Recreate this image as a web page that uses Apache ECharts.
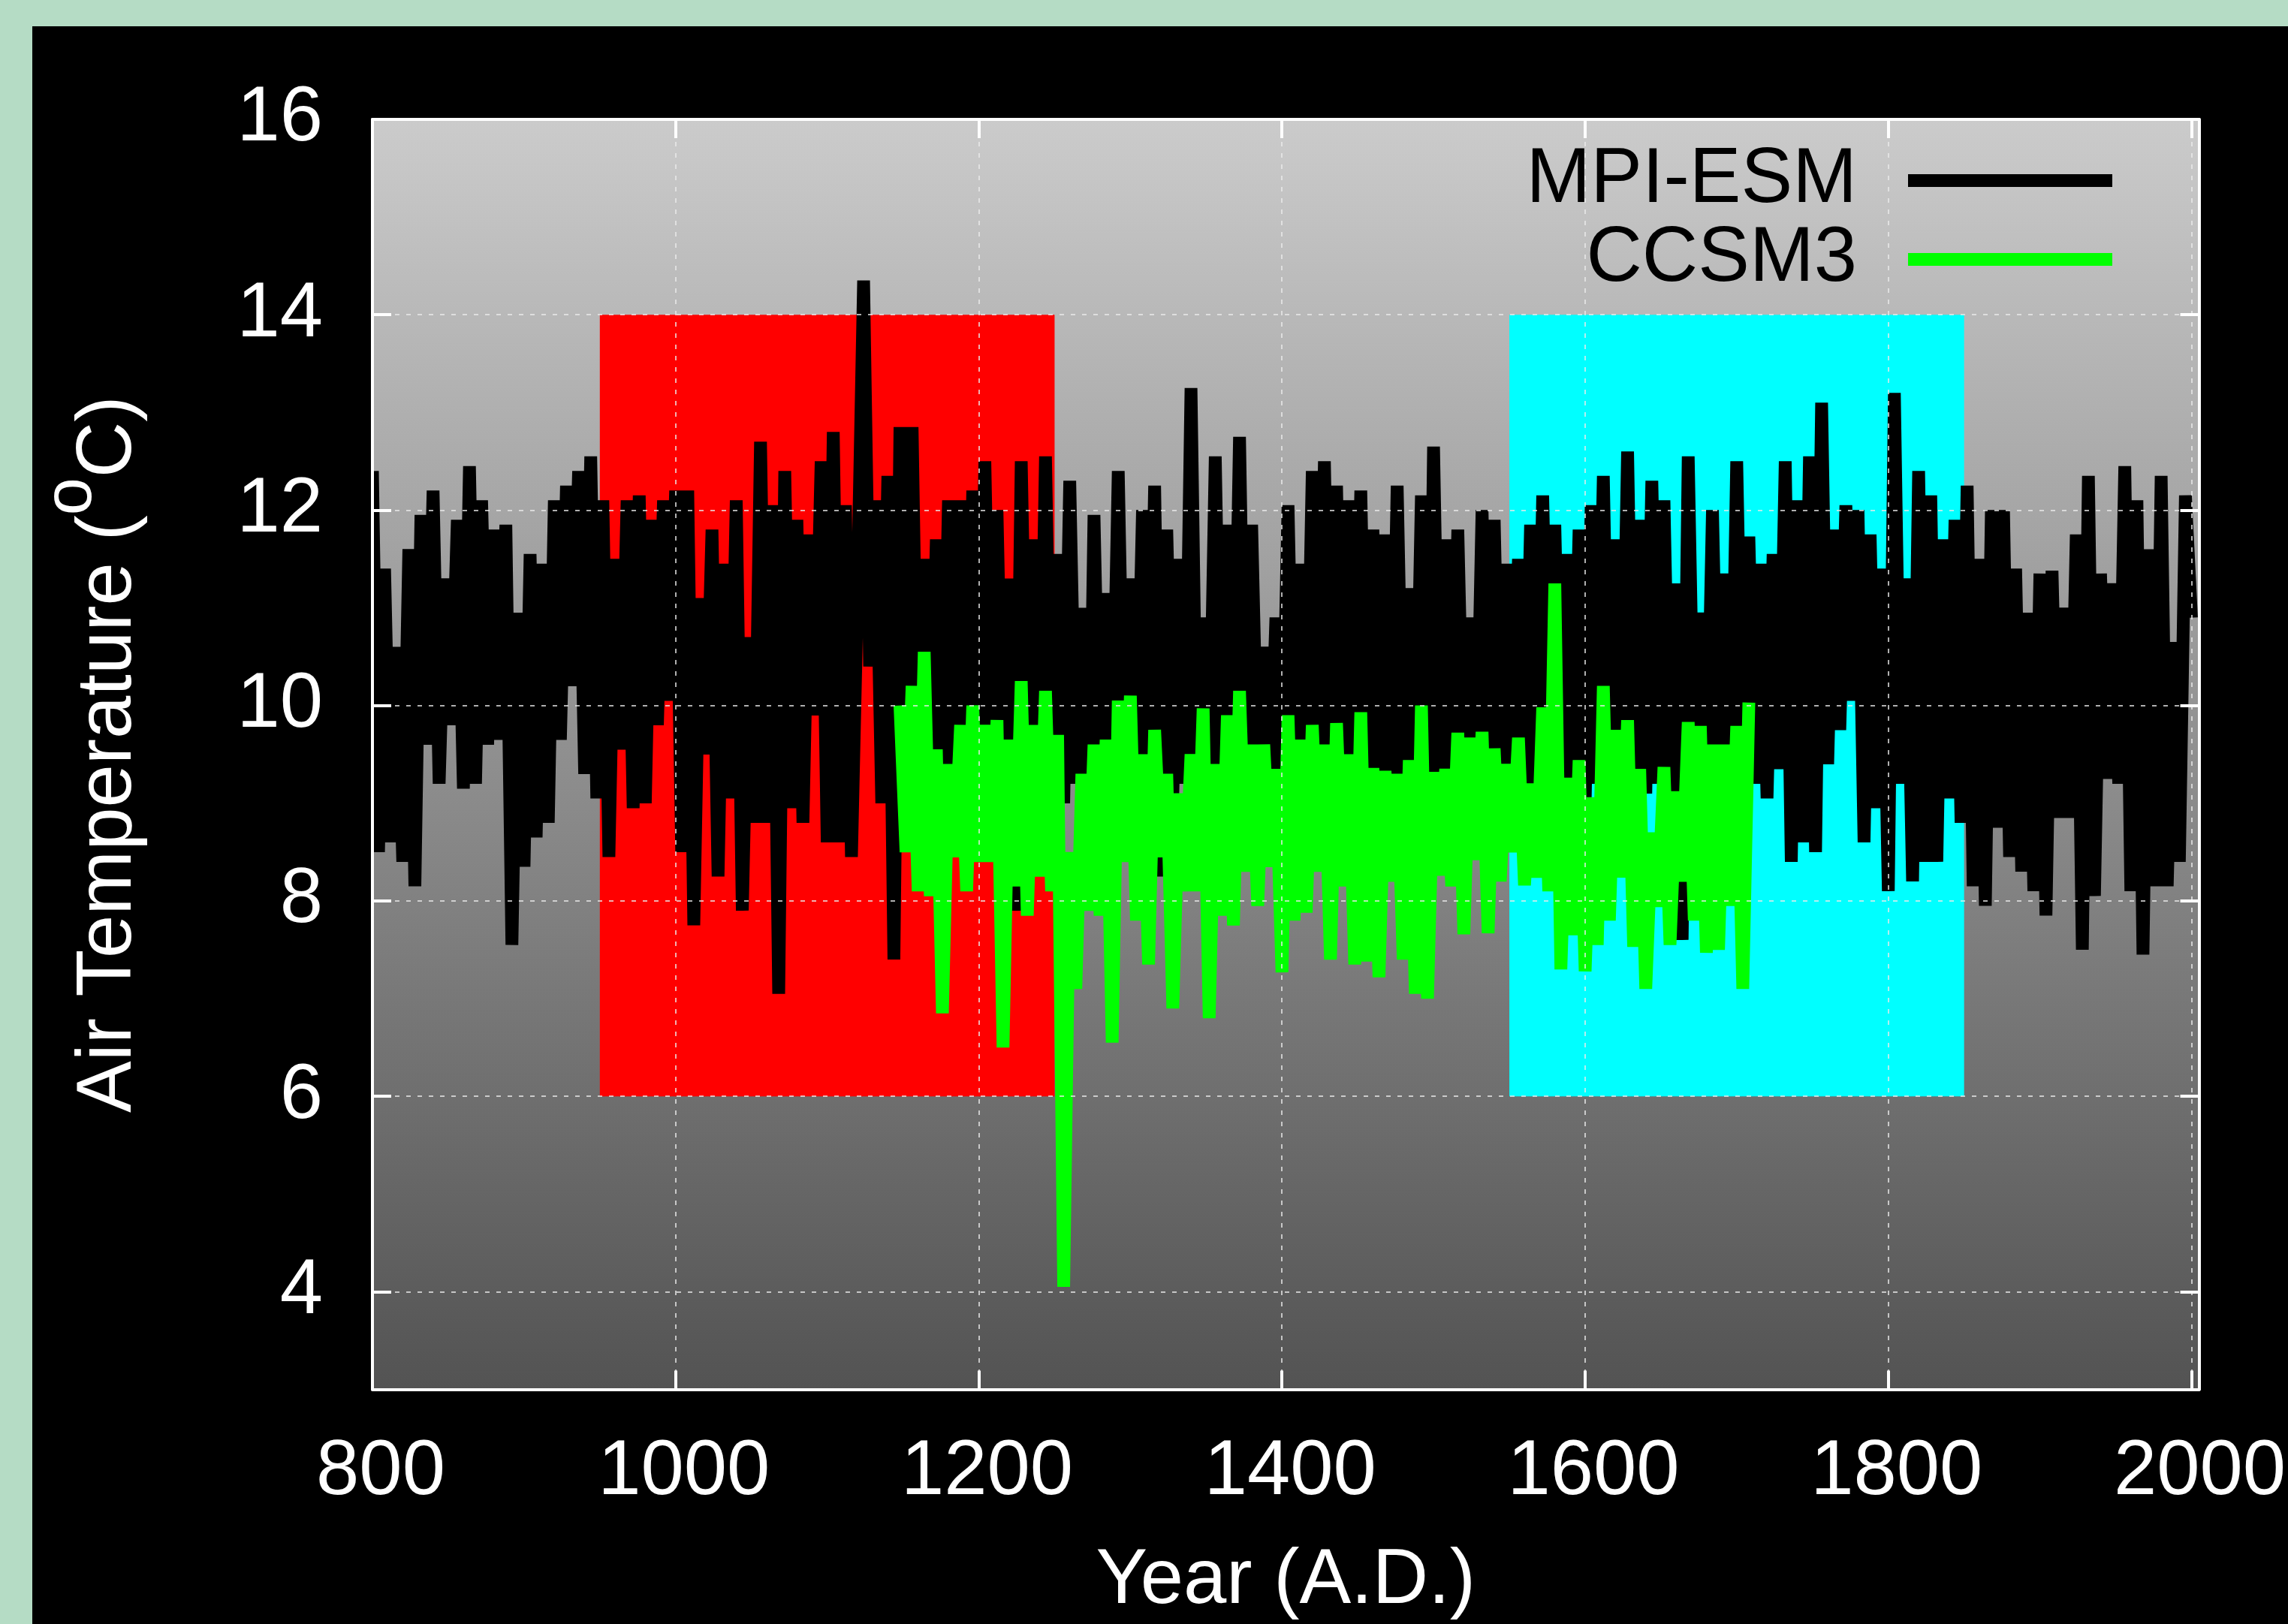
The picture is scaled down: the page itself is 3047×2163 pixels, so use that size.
<!DOCTYPE html>
<html>
<head>
<meta charset="utf-8">
<script src="https://cdn.jsdelivr.net/npm/echarts@6/dist/echarts.min.js"></script>
<style>
  html, body { margin: 0; padding: 0; background: #b5dcc5; }
  #main { position: absolute; left: 43px; top: 35px; width: 3004px; height: 2128px; background: #000; }
</style>
</head>
<body>
<div id="main"></div>
<script>
// values, one every 4 years (alternating highs / lows)
const step = 4;
const mpiStart = 800;
const ccsmStart = 1148;

const mpiTemp = [
  12.4, 8.5, 11.4, 8.6, 10.6, 8.4, 11.6, 8.15, 11.95, 9.6,      // 800
  12.2, 9.2, 11.3, 9.8, 11.9, 9.15, 12.45, 9.2, 12.1, 9.6,      // 840
  11.8, 9.65, 11.85, 7.55, 10.95, 8.35, 11.55, 8.65, 11.45, 8.8, // 880
  12.1, 9.65, 12.25, 10.2, 12.4, 9.3, 12.55, 9.05, 12.1, 8.45,  // 920
  11.5, 9.55, 12.1, 8.95, 12.15, 9.0, 11.9, 9.8, 12.1, 10.05,   // 960
  12.2, 8.5, 12.2, 7.75, 11.1, 9.5, 11.8, 8.25, 11.45, 9.05,    // 1000
  12.1, 7.9, 10.7, 8.8, 12.7, 8.8, 12.05, 7.05, 12.4, 8.95,     // 1040
  11.9, 8.8, 11.75, 9.9, 12.5, 8.6, 12.8, 8.6, 12.05, 8.45,     // 1080
  11.2, 14.35, 10.4, 12.1, 9.0, 12.35, 7.4, 12.85, 9.0, 12.85,  // 1120
  9.1, 11.5, 9.2, 11.7, 9.0, 12.1, 9.2, 12.1, 9.0, 12.2,        // 1160
  9.1, 12.5, 9.2, 12.0, 9.0, 11.3, 7.9, 12.5, 9.2, 11.7,        // 1200
  9.0, 12.55, 9.1, 11.55, 9.0, 12.3, 9.2, 11.0, 7.9, 11.95,     // 1240
  9.0, 11.15, 9.2, 12.4, 9.1, 11.3, 9.2, 12.0, 9.0, 12.25,      // 1280
  8.25, 11.8, 9.1, 11.5, 9.2, 13.25, 9.0, 10.9, 9.2, 12.55,     // 1320
  9.0, 11.85, 9.3, 12.75, 9.0, 11.85, 9.2, 10.6, 9.0, 10.9,     // 1360
  9.1, 12.05, 9.0, 11.45, 9.2, 12.4, 9.0, 12.5, 9.1, 12.25,     // 1400
  9.0, 12.1, 9.2, 12.2, 9.0, 11.8, 9.2, 11.75, 9.0, 12.25,      // 1440
  9.1, 11.2, 9.0, 12.15, 7.85, 12.65, 9.2, 11.7, 9.0, 11.8,     // 1480
  9.1, 10.9, 9.0, 12.0, 9.2, 11.9, 9.0, 11.45, 9.2, 11.5,       // 1520
  9.0, 11.85, 9.1, 12.15, 9.2, 11.85, 9.0, 11.55, 9.2, 11.8,    // 1560
  9.0, 12.05, 9.2, 12.35, 9.0, 11.7, 9.2, 12.6, 9.0, 11.9,      // 1600
  9.1, 12.3, 9.2, 12.1, 9.0, 11.25, 7.6, 12.55, 9.2, 10.95,     // 1640
  9.0, 12.0, 9.1, 11.35, 9.0, 12.5, 9.2, 11.73, 9.2, 11.45,     // 1680
  9.05, 11.55, 9.35, 12.5, 8.4, 12.1, 8.6, 12.55, 8.5, 13.1,    // 1720
  9.4, 11.8, 9.75, 12.05, 10.05, 12.0, 8.6, 11.75, 8.95, 11.4,  // 1760
  8.1, 13.2, 9.2, 11.3, 8.2, 12.4, 8.4, 12.15, 8.4, 11.7,       // 1800
  9.05, 11.9, 8.8, 12.25, 8.15, 11.5, 7.95, 12.0, 8.75, 12.0,   // 1840
  8.45, 11.4, 8.3, 10.95, 8.1, 11.35, 7.85, 11.38, 8.85, 11.0,  // 1880
  8.85, 11.75, 7.5, 12.35, 8.05, 11.35, 9.25, 11.25, 9.2, 12.45, // 1920
  8.1, 12.1, 7.45, 11.6, 8.15, 12.35, 8.15, 10.65, 8.4, 12.15,  // 1960
  10.9                                                          // 2000
];

const ccsmTemp = [
  10.0, 8.5, 10.2, 8.1, 10.55, 8.05, 9.55, 6.85, 9.4, 8.45,     // 1148
  9.8, 8.1, 10.0, 8.4, 9.8, 8.4, 9.85, 6.5, 9.65, 8.15,         // 1188
  10.25, 7.85, 9.8, 8.25, 10.15, 8.1, 9.7, 4.05, 8.5, 7.1,      // 1228
  9.3, 7.9, 9.6, 7.85, 9.65, 6.55, 10.05, 8.4, 10.1, 7.8,       // 1268
  9.5, 7.35, 9.75, 8.45, 9.3, 6.9, 9.1, 8.1, 9.5, 8.1,          // 1308
  9.97, 6.8, 9.4, 7.85, 9.9, 7.75, 10.15, 8.3, 9.6, 7.95,       // 1348
  9.6, 8.35, 9.35, 7.27, 9.9, 7.8, 9.65, 7.88, 9.8, 8.3,        // 1388
  9.6, 7.4, 9.82, 8.15, 9.5, 7.35, 9.93, 7.38, 9.36, 7.22,      // 1428
  9.33, 8.2, 9.3, 7.4, 9.44, 7.05, 10.0, 7.0, 9.32, 8.26,       // 1468
  9.35, 8.15, 9.72, 7.66, 9.67, 8.42, 9.73, 7.67, 9.56, 8.2,    // 1508
  9.4, 8.5, 9.67, 8.16, 9.2, 8.24, 9.98, 8.1, 11.25, 7.3,       // 1548
  9.26, 7.65, 9.44, 7.28, 9.06, 7.55, 10.2, 7.8, 9.75, 8.24,    // 1588
  9.85, 7.53, 9.35, 7.1, 8.7, 7.94, 9.37, 7.55, 9.12, 8.2,      // 1628
  9.83, 7.8, 9.79, 7.47, 9.6, 7.5, 9.6, 7.95, 9.79, 7.1,        // 1668
  10.03                                                         // 1708
];

const yTicks = [4, 6, 8, 10, 12, 14, 16];
const warmBox = [950, 1250];
const coldBox = [1550, 1850];
const boxTemp = [6, 14];

const toPairs = (start, vals) => vals.map((v, i) => [start + i * step, v]);

const font = 'Liberation Sans';
const fs = 103;
const white = '#ffffff';
const frame = { show: true, onZero: false, lineStyle: { color: white, width: 4 } };
const ticks = { show: true, inside: true, length: 25, lineStyle: { color: white, width: 4 } };
const grid = { show: true, lineStyle: { color: 'rgba(235,235,235,0.75)', width: 2, type: [6, 9] } };

const chart = echarts.init(document.getElementById('main'));
chart.setOption({
  animation: false,
  backgroundColor: '#000',
  textStyle: { fontFamily: font },
  grid: {
    left: 445, right: 110, top: 124, bottom: 303,
    show: true, borderWidth: 0,
    backgroundColor: new echarts.graphic.LinearGradient(0, 0, 0, 1, [
      { offset: 0, color: '#cbcbcb' },
      { offset: 1, color: '#535353' }
    ])
  },
  legend: {
    data: ['MPI-ESM', 'CCSM3'],
    orient: 'vertical', align: 'right',
    right: 234, top: 154, padding: 0,
    itemWidth: 272, itemHeight: 17, itemGap: 2, icon: 'rect',
    selectedMode: false,
    textStyle: { color: '#000', fontSize: fs, fontFamily: font, lineHeight: 100, padding: [0, 63, 0, 0] }
  },
  xAxis: [
    {
      type: 'value', min: 800, max: 2005, interval: 200, z: 10,
      axisLine: frame, axisTick: ticks, splitLine: grid,
      axisLabel: { color: white, fontSize: fs, fontFamily: font, margin: 60, padding: [0, 0, 0, 22], formatter: v => String(v) },
      name: 'Year (A.D.)', nameLocation: 'middle', nameGap: 206,
      nameTextStyle: { color: white, fontSize: fs, fontFamily: font, lineHeight: 100 }
    },
    {
      type: 'value', position: 'top', min: 800, max: 2005, interval: 200, z: 10,
      axisLine: frame, axisTick: ticks, splitLine: { show: false }, axisLabel: { show: false }
    }
  ],
  yAxis: [
    {
      type: 'value', min: 3, max: 16, splitNumber: 7, z: 10,
      axisLine: frame,
      axisTick: Object.assign({ customValues: yTicks }, ticks),
      splitLine: grid,
      axisLabel: { customValues: yTicks, color: white, fontSize: fs, fontFamily: font, margin: 66 },
      name: '{t|Air Temperature (}{s|o}{t|C)}',
      nameLocation: 'middle', nameRotate: 90, nameGap: 255,
      nameTextStyle: {
        rich: {
          t: { color: white, fontSize: fs, fontFamily: font, lineHeight: 190 },
          s: { color: white, fontSize: 90, fontFamily: font, lineHeight: 100, verticalAlign: 'top' }
        }
      }
    },
    {
      type: 'value', position: 'right', min: 3, max: 16, splitNumber: 7, z: 10,
      axisLine: frame,
      axisTick: Object.assign({ customValues: yTicks }, ticks),
      splitLine: { show: false }, axisLabel: { show: false }
    }
  ],
  series: [
    {
      name: 'MPI-ESM', type: 'line',
      data: toPairs(mpiStart, mpiTemp),
      showSymbol: false, symbol: 'none',
      itemStyle: { color: '#000000' },
      lineStyle: { color: '#000000', width: 17 },
      markArea: {
        silent: true,
        data: [
          [{ coord: [warmBox[0], boxTemp[0]], itemStyle: { color: '#ff0000', opacity: 1 } },
           { coord: [warmBox[1], boxTemp[1]] }],
          [{ coord: [coldBox[0], boxTemp[0]], itemStyle: { color: '#00ffff', opacity: 1 } },
           { coord: [coldBox[1], boxTemp[1]] }]
        ]
      }
    },
    {
      name: 'CCSM3', type: 'line',
      data: toPairs(ccsmStart, ccsmTemp),
      showSymbol: false, symbol: 'none',
      itemStyle: { color: '#00ff00' },
      lineStyle: { color: '#00ff00', width: 17 }
    }
  ]
});
</script>
</body>
</html>
